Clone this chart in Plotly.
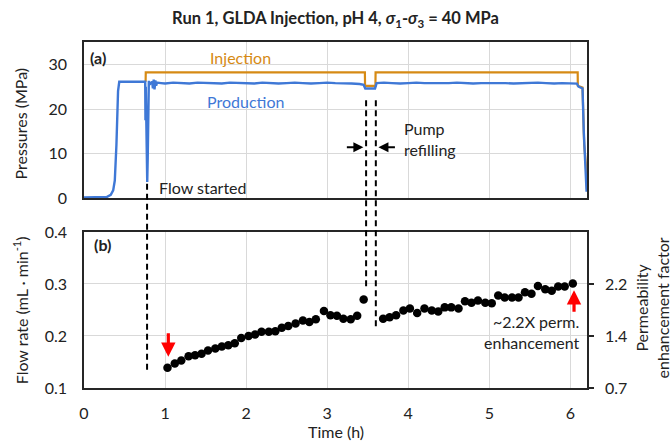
import plotly.graph_objects as go

# ---------------- data ----------------
prod_t = [0.00, 0.28, 0.33, 0.36, 0.38, 0.40, 0.42, 0.435, 0.755, 0.758, 0.762, 0.768, 0.774,
          0.780, 0.786, 0.790, 0.795, 0.800, 0.81, 0.82, 0.83, 0.84, 0.85, 0.86, 0.87, 0.88,
          0.89, 0.90, 0.95, 1.00, 1.10, 1.20, 1.30, 1.40, 1.50, 1.60, 1.70, 1.80, 1.90, 2.00,
          2.10, 2.20, 2.30, 2.40, 2.50, 2.60, 2.70, 2.80, 2.90, 3.00, 3.10, 3.20, 3.30, 3.40,
          3.45, 3.47, 3.59, 3.61, 3.70, 3.80, 3.90, 4.00, 4.10, 4.20, 4.30, 4.40, 4.50, 4.60,
          4.70, 4.80, 4.90, 5.00, 5.10, 5.20, 5.30, 5.40, 5.50, 5.60, 5.70, 5.80, 5.90, 6.00,
          6.08, 6.10, 6.15, 6.165, 6.18, 6.19, 6.20]
prod_p = [0.2, 0.3, 0.8, 1.8, 4.0, 12.0, 24.0, 26.1, 26.1, 17.5, 25.0, 18.0, 12.0,
          3.7, 9.0, 20.0, 25.5, 26.3, 25.4, 26.0, 25.6, 26.2, 24.6, 26.6, 24.4, 26.4,
          25.2, 25.9, 25.8, 25.7, 25.9, 25.8, 25.7, 25.9, 25.8, 25.8, 25.7, 25.9, 25.8, 25.8,
          25.7, 25.9, 25.8, 25.7, 25.8, 25.9, 25.8, 25.7, 25.8, 25.9, 25.8, 25.8, 25.7, 25.6,
          25.4, 24.6, 24.6, 25.8, 25.9, 25.8, 25.7, 25.8, 25.9, 25.8, 25.8, 25.7, 25.8, 25.9,
          25.8, 25.7, 25.8, 25.8, 25.9, 25.8, 25.7, 25.8, 25.8, 25.9, 25.8, 25.7, 25.8, 25.8,
          25.7, 25.0, 24.6, 15.0, 9.0, 5.0, 1.5]

inj_t = [0.760, 0.762, 3.465, 3.467, 3.595, 3.597, 6.090, 6.092, 6.150, 6.170, 6.190, 6.205]
inj_p = [26.1, 28.2, 28.2, 25.2, 25.2, 28.2, 28.2, 25.2, 24.8, 12.0, 8.0, 2.0]

flow_t = [1.03, 1.12, 1.20, 1.29, 1.37, 1.45, 1.53, 1.62, 1.70, 1.78, 1.86, 1.94, 2.03, 2.11,
          2.19, 2.28, 2.36, 2.44, 2.52, 2.61, 2.70, 2.78, 2.86, 2.96, 3.04, 3.12, 3.20, 3.29,
          3.37, 3.45,
          3.69, 3.77, 3.85, 3.94, 4.02, 4.11, 4.20, 4.29, 4.37, 4.45, 4.53, 4.62, 4.70, 4.78,
          4.86, 4.95, 5.03, 5.11, 5.19, 5.28, 5.36, 5.44, 5.52, 5.60, 5.69, 5.77, 5.85, 5.93,
          6.03]
flow_q = [0.139, 0.147, 0.153, 0.161, 0.163, 0.166, 0.172, 0.176, 0.180, 0.182, 0.186, 0.196,
          0.200, 0.203, 0.208, 0.208, 0.209, 0.216, 0.219, 0.224, 0.230, 0.227, 0.232, 0.248,
          0.240, 0.239, 0.233, 0.232, 0.239, 0.270,
          0.233, 0.236, 0.240, 0.249, 0.253, 0.244, 0.253, 0.249, 0.247, 0.255, 0.255, 0.253,
          0.267, 0.264, 0.268, 0.264, 0.263, 0.278, 0.274, 0.274, 0.274, 0.284, 0.281, 0.296,
          0.290, 0.287, 0.295, 0.295, 0.301]

x_ticks = [0, 1, 2, 3, 4, 5, 6]
p_ticks = [0, 10, 20, 30]
q_ticks = [0.1, 0.2, 0.3, 0.4]
k_tickvals = [0.1, 0.2, 0.3]
k_ticktext = ["0.7", "1.4", "2.2"]

# event markers (time, h)
flow_start_t = 0.778
refill_start_t = 3.48
refill_end_t = 3.60

# ---------------- styling ----------------
FONT = "Lato, 'Open Sans', sans-serif"
BLUE = "#3F78D6"
ORANGE = "#D68A14"
GRID = "#D9D9D9"
TXT = "#222222"

fig = go.Figure()
fig.add_trace(go.Scatter(x=inj_t, y=inj_p, mode="lines", line=dict(color=ORANGE, width=2.2),
                         xaxis="x", yaxis="y", showlegend=False, hoverinfo="skip"))
fig.add_trace(go.Scatter(x=prod_t, y=prod_p, mode="lines", line=dict(color=BLUE, width=2.4),
                         xaxis="x", yaxis="y", showlegend=False, hoverinfo="skip"))
fig.add_trace(go.Scatter(x=flow_t, y=flow_q, mode="markers",
                         marker=dict(color="black", size=8.5),
                         xaxis="x2", yaxis="y2", showlegend=False))
fig.add_trace(go.Scatter(x=flow_t, y=flow_q, mode="markers", marker=dict(opacity=0),
                         xaxis="x2", yaxis="y3", showlegend=False, hoverinfo="skip"))

axis_common = dict(showline=True, linecolor="#262626", linewidth=1.5, mirror=True,
                   zeroline=False, gridcolor=GRID, gridwidth=1,
                   tickfont=dict(family=FONT, size=16, color=TXT))

top_dom = [0.548, 1.0]
bot_dom = [0.0, 0.451]

fig.update_layout(
    width=671, height=441,
    margin=dict(l=84, r=84, t=42, b=53),
    paper_bgcolor="white", plot_bgcolor="white",
    font=dict(family=FONT, size=16, color=TXT),
    title=dict(text="<b>Run 1, GLDA Injection, pH 4, <i>σ</i><sub>1</sub>-<i>σ</i><sub>3</sub> = 40 MPa</b>",
               x=0.5, xref="paper", xanchor="center", y=0.958, yanchor="middle",
               font=dict(family=FONT, size=16.5, color=TXT)),
    xaxis=dict(axis_common, domain=[0, 1], anchor="y", range=[0, 6.205],
               tickvals=x_ticks, showticklabels=False, ticks=""),
    yaxis=dict(axis_common, domain=top_dom, anchor="x", range=[0, 35],
               tickvals=p_ticks, ticks="", ticklabelstandoff=12),
    xaxis2=dict(axis_common, domain=[0, 1], anchor="y2", range=[0, 6.205],
                tickvals=x_ticks, ticks="", ticklabelstandoff=10),
    yaxis2=dict(axis_common, domain=bot_dom, anchor="x2", range=[0.1, 0.4],
                tickvals=q_ticks, tickformat=".1f", ticks="", ticklabelstandoff=12),
    yaxis3=dict(axis_common, overlaying="y2", side="right", anchor="x2", range=[0.1, 0.4],
                tickvals=k_tickvals, ticktext=k_ticktext, ticks="outside", ticklen=5,
                tickwidth=1.5, tickcolor="#262626", showgrid=False, mirror=False,
                ticklabelstandoff=8),
)

# dashed event lines spanning both panels
dash = dict(color="black", width=2, dash="6px,4px")
fig.add_shape(type="line", xref="x", yref="paper", x0=flow_start_t, x1=flow_start_t,
              y0=0.590, y1=0.043, line=dash)
fig.add_shape(type="line", xref="x", yref="paper", x0=refill_start_t, x1=refill_start_t,
              y0=0.832, y1=0.292, line=dash)
fig.add_shape(type="line", xref="x", yref="paper", x0=refill_end_t, x1=refill_end_t,
              y0=0.832, y1=0.173, line=dash)

ann = []
ann.append(dict(text="<b>(a)</b>", xref="paper", yref="y", x=0.008, y=31.6,
                xanchor="left", yanchor="middle", showarrow=False, font=dict(size=16, color=TXT)))
ann.append(dict(text="Injection", xref="x", yref="y", x=1.925, y=31.6,
                xanchor="center", yanchor="middle", showarrow=False, font=dict(size=16, color=ORANGE)))
ann.append(dict(text="Production", xref="x", yref="y", x=1.99, y=21.6,
                xanchor="center", yanchor="middle", showarrow=False, font=dict(size=16, color=BLUE)))
ann.append(dict(text="Flow started", xref="x", yref="y", x=0.90, y=2.55,
                xanchor="left", yanchor="middle", showarrow=False, font=dict(size=16, color=TXT)))
ann.append(dict(text="Pump<br>refilling", xref="x", yref="y", x=3.92, y=13.2, align="left",
                xanchor="left", yanchor="middle", showarrow=False, font=dict(size=16, color=TXT)))
# pump-refilling arrows
ann.append(dict(text="", xref="x", yref="y", x=3.446, y=11.45, ax=-18, ay=0,
                showarrow=True, arrowhead=2, arrowsize=1, arrowwidth=2, arrowcolor="black"))
ann.append(dict(text="", xref="x", yref="y", x=3.632, y=11.45, ax=18, ay=0,
                showarrow=True, arrowhead=2, arrowsize=1, arrowwidth=2, arrowcolor="black"))
ann.append(dict(text="<b>(b)</b>", xref="paper", yref="y2", x=0.016, y=0.375,
                xanchor="left", yanchor="middle", showarrow=False, font=dict(size=16, color=TXT)))
ann.append(dict(text="~2.2X perm.<br>enhancement", xref="x2", yref="y2", x=6.14, y=0.208,
                align="right", xanchor="right", yanchor="middle", showarrow=False,
                font=dict(size=16, color=TXT)))
# red arrows
ann.append(dict(text="", xref="x2", yref="y2", x=1.04, y=0.160, ax=0, ay=-25,
                showarrow=True, arrowhead=2, arrowsize=0.9, arrowwidth=3.2, arrowcolor="#FF0000"))
ann.append(dict(text="", xref="x2", yref="y2", x=6.045, y=0.288, ax=0, ay=23,
                showarrow=True, arrowhead=2, arrowsize=0.9, arrowwidth=3.2, arrowcolor="#FF0000"))
# axis titles
ann.append(dict(text="Pressures (MPa)", xref="paper", yref="paper", x=-0.127, y=0.765,
                textangle=-90, xanchor="center", yanchor="middle", showarrow=False,
                font=dict(size=16, color=TXT)))
ann.append(dict(text="Flow rate (mL · min<sup>-1</sup>)", xref="paper", yref="paper", x=-0.127,
                y=0.225, textangle=-90, xanchor="center", yanchor="middle", showarrow=False,
                font=dict(size=16, color=TXT)))
ann.append(dict(text="Permeability<br>enhancement factor", xref="paper", yref="paper", x=1.13,
                y=0.231, textangle=-90, xanchor="center", yanchor="middle", showarrow=False,
                font=dict(size=16, color=TXT)))
ann.append(dict(text="Time (h)", xref="paper", yref="paper", x=0.5, y=-0.127,
                xanchor="center", yanchor="middle", showarrow=False,
                font=dict(size=16, color=TXT)))
fig.update_layout(annotations=ann)

fig.write_html("out.html", config={"displayModeBar": False},
               post_script="document.body.style.margin='0';document.body.style.overflow='hidden';")
